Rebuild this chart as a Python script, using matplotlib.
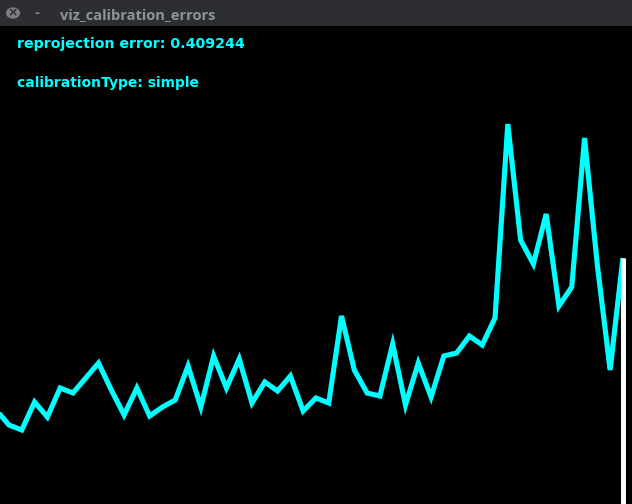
import matplotlib
matplotlib.use("Agg")
import matplotlib.pyplot as plt
from matplotlib.patches import Rectangle, Circle

# per-frame errors (pixel-height units of the viz window)
frame_idx = list(range(50))
errors_px_from_top = [410, 425, 430, 402, 417, 388, 393, 378, 363, 390,
                      415, 388, 416, 407, 400, 366, 407, 356, 388, 359,
                      403, 382, 391, 376, 411, 398, 403, 316, 370, 393,
                      396, 344, 405, 363, 397, 356, 353, 336, 345, 318,
                      124, 240, 264, 214, 306, 287, 138, 265, 370, 258]
window_title = "viz_calibration_errors"
line1 = "reprojection error: 0.409244"
line2 = "calibrationType: simple"

W, H = 632, 504
BAR = 26
values = [H - y for y in errors_px_from_top]

fig = plt.figure(figsize=(W / 100, H / 100), dpi=100, facecolor="#2d2e34")
ax = fig.add_axes([0, 0, 1, (H - BAR) / H])
ax.set_facecolor("black")
for s in ax.spines.values():
    s.set_visible(False)
ax.set_xticks([])
ax.set_yticks([])
step = 12.79
x0 = 3.8 / step
ax.set_xlim(x0, x0 + W / step)
ax.set_ylim(0, H - BAR)

ax.plot(frame_idx, values, color="#00ffff", lw=3.7, solid_joinstyle="miter",
        solid_capstyle="butt")
ax.plot([frame_idx[-1], frame_idx[-1]], [0, values[-1]], color="white", lw=3.6,
        solid_capstyle="butt")

# overlay texts (pixel positions)
fig.text(17 / W, 1 - 48 / H, line1, color="#00ffff", fontsize=10.2,
         fontweight="bold", family="DejaVu Sans", va="baseline", ha="left")
fig.text(17 / W, 1 - 87 / H, line2, color="#00ffff", fontsize=10.0,
         fontweight="bold", family="DejaVu Sans", va="baseline", ha="left")

# title bar
fig.patches.append(Circle((13 / W, 1 - 13 / H), 0.0112, transform=fig.transFigure,
                          facecolor="#7d7e82", edgecolor="none"))
fig.text(13 / W, 1 - 13 / H, "×", color="#2d2e34", fontsize=9, fontweight="bold",
         ha="center", va="center", family="DejaVu Sans")
fig.text(37 / W, 1 - 13 / H, "-", color="#8a8d94", fontsize=9, fontweight="bold",
         ha="center", va="center", family="DejaVu Sans")
fig.text(60 / W, 1 - 19 / H, window_title, color="#8f939a", fontsize=10.5,
         fontweight="bold", family="Open Sans", va="baseline", ha="left")

fig.savefig("out.png", dpi=100, facecolor=fig.get_facecolor())
